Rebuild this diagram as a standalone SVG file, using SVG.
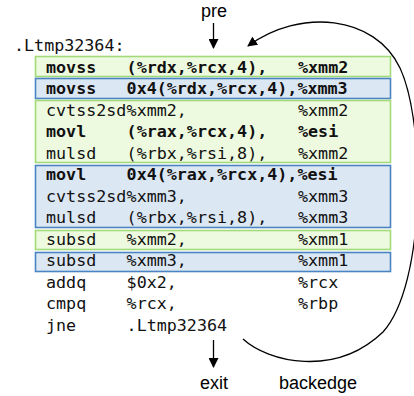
<svg xmlns="http://www.w3.org/2000/svg" width="414" height="396" viewBox="0 0 414 396">
  <defs>
    <marker id="arrow" viewBox="0 0 10 10" refX="9" refY="5" markerWidth="10" markerHeight="10" markerUnits="userSpaceOnUse" orient="auto">
      <path d="M0,0 L10,5 L0,10 z" fill="#000"/>
    </marker>
    <style>
      .asm { font-family: "DejaVu Sans Mono", "Liberation Mono", monospace; font-size: 16.7px; fill: #111; }
      .b { font-weight: bold; }
      .lbl { font-family: "Liberation Sans", Arial, sans-serif; font-size: 18px; fill: #000; text-anchor: middle; }
      .green { fill: #edfadf; stroke: #a2d97a; stroke-width: 1.6; }
      .blue { fill: #dce7f4; stroke: #4a84c2; stroke-width: 1.6; }
      .edge { fill: none; stroke: #000; stroke-width: 1.3; }
    </style>
  </defs>

  <rect width="414" height="396" fill="#fff"/>

  <!-- highlighted instruction groups -->
  <g id="groups">
    <rect id="g-load1" class="green" x="35.5" y="56.5" width="355" height="20"/>
    <rect id="g-load2" class="blue" x="35.5" y="78.5" width="355" height="20"/>
    <rect id="g-mul1" class="green" x="35.5" y="100.5" width="355" height="62"/>
    <rect id="g-mul2" class="blue" x="35.5" y="165.5" width="355" height="62"/>
    <rect id="g-sub1" class="green" x="35.5" y="230.5" width="355" height="19"/>
    <rect id="g-sub2" class="blue" x="35.5" y="252.5" width="355" height="19"/>
  </g>

  <!-- loop body listing -->
  <g id="listing">
    <text class="asm" x="14" y="51">.Ltmp32364:</text>

    <g id="i1">
      <text class="asm b" x="46" y="72.5">movss</text>
      <text class="asm b" x="126.6" y="72.5">(%rdx,%rcx,4),</text>
      <text class="asm b" x="298" y="72.5">%xmm2</text>
    </g>
    <g id="i2">
      <text class="asm b" x="46" y="94">movss</text>
      <text class="asm b" x="126.6" y="94">0x4(%rdx,%rcx,4),%xmm3</text>
    </g>
    <g id="i3">
      <text class="asm" x="46" y="115.5">cvtss2sd</text>
      <text class="asm" x="126.6" y="115.5">%xmm2,</text>
      <text class="asm" x="298" y="115.5">%xmm2</text>
    </g>
    <g id="i4">
      <text class="asm b" x="46" y="137">movl</text>
      <text class="asm b" x="126.6" y="137">(%rax,%rcx,4),</text>
      <text class="asm b" x="298" y="137">%esi</text>
    </g>
    <g id="i5">
      <text class="asm" x="46" y="158.5">mulsd</text>
      <text class="asm" x="126.6" y="158.5">(%rbx,%rsi,8),</text>
      <text class="asm" x="298" y="158.5">%xmm2</text>
    </g>
    <g id="i6">
      <text class="asm b" x="46" y="180">movl</text>
      <text class="asm b" x="126.6" y="180">0x4(%rax,%rcx,4),%esi</text>
    </g>
    <g id="i7">
      <text class="asm" x="46" y="201.5">cvtss2sd</text>
      <text class="asm" x="126.6" y="201.5">%xmm3,</text>
      <text class="asm" x="298" y="201.5">%xmm3</text>
    </g>
    <g id="i8">
      <text class="asm" x="46" y="223">mulsd</text>
      <text class="asm" x="126.6" y="223">(%rbx,%rsi,8),</text>
      <text class="asm" x="298" y="223">%xmm3</text>
    </g>
    <g id="i9">
      <text class="asm" x="46" y="244.5">subsd</text>
      <text class="asm" x="126.6" y="244.5">%xmm2,</text>
      <text class="asm" x="298" y="244.5">%xmm1</text>
    </g>
    <g id="i10">
      <text class="asm" x="46" y="266">subsd</text>
      <text class="asm" x="126.6" y="266">%xmm3,</text>
      <text class="asm" x="298" y="266">%xmm1</text>
    </g>
    <g id="i11">
      <text class="asm" x="46" y="287.5">addq</text>
      <text class="asm" x="126.6" y="287.5">$0x2,</text>
      <text class="asm" x="298" y="287.5">%rcx</text>
    </g>
    <g id="i12">
      <text class="asm" x="46" y="309">cmpq</text>
      <text class="asm" x="126.6" y="309">%rcx,</text>
      <text class="asm" x="298" y="309">%rbp</text>
    </g>
    <g id="i13">
      <text class="asm" x="46" y="330.5">jne</text>
      <text class="asm" x="126.6" y="330.5">.Ltmp32364</text>
    </g>
  </g>

  <!-- labels -->
  <g id="pre"><text class="lbl" x="214" y="17">pre</text></g>
  <g id="exit"><text class="lbl" x="214" y="389">exit</text></g>
  <g id="backedge"><text class="lbl" x="318" y="389">backedge</text></g>

  <!-- control-flow connectors -->
  <g id="connectors">
    <line class="edge" x1="213.5" y1="23" x2="213.5" y2="48" marker-end="url(#arrow)"/>
    <line class="edge" x1="213.5" y1="340" x2="213.5" y2="367" marker-end="url(#arrow)"/>
    <path class="edge" d="M243,339 C268,362 335,378 383,332 C426,284 426,124 400,68 C375,15 300,8 248,46" marker-end="url(#arrow)"/>
  </g>
</svg>
